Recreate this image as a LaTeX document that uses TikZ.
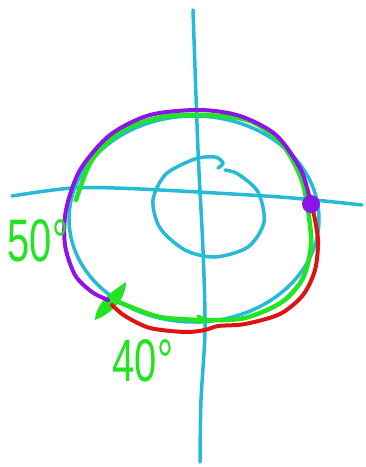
\documentclass[tikz,border=0pt]{standalone}
\usepackage{fontspec}
\setmainfont{Liberation Sans}
\definecolor{skyc}{RGB}{38,186,214}
\definecolor{grn}{RGB}{34,228,34}
\definecolor{prp}{RGB}{140,20,230}
\definecolor{rd}{RGB}{222,20,20}
\begin{document}
\begin{tikzpicture}[x=1pt,y=-1pt,line cap=round,line join=round,
  axisline/.style={skyc,line width=3.5pt},
  ringline/.style={line width=4pt},
  lbl/.style={text=grn,font=\fontsize{50}{50}\selectfont,inner sep=0pt}]
\useasboundingbox (0,0) rectangle (366,467);
\fill[white] (0,0) rectangle (366,467);
% axes
\draw[axisline] plot[smooth] coordinates {(12,196) (73,188) (140,189) (280,197) (362,205)};
\draw[axisline] plot[smooth] coordinates {(193,10) (198,150) (203,250) (205,330) (201,400) (200,462)};
% small spiral
\draw[axisline] plot[smooth] coordinates {(218,168) (223,163) (215,157) (195,159) (166,174) (153,200) (160,228) (185,250) (215,257) (248,247) (264,222) (258,192) (238,174) (225,170)};
% cyan ring
\draw[axisline] (194,219) ellipse [x radius=125, y radius=103];
% green
\draw[grn,ringline,line width=4.5pt] plot[smooth] coordinates {(76,200) (92,160) (122,131) (162,117) (205,115) (250,121) (282,144) (301,178) (308,210) (311,245) (303,278) (282,302) (245,318) (205,320) (160,317) (126,305) (110,298)};
\fill[grn] (95,320) .. controls (96,302) and (114,290) .. (126,282) .. controls (126,298) and (113,313) .. cycle;
\draw[grn,line width=3pt] (198,316) -- (206,320) -- (198,323);
% red
\draw[rd,ringline] plot[smooth] coordinates {(313,210) (318,240) (315,270) (303,295) (280,314) (245,324) (218,326) (205,330) (185,332) (150,328) (125,316) (112,305)};
% purple
\draw[prp,ringline] plot[smooth] coordinates {(311,204) (301,170) (276,135) (240,116) (200,110) (150,115) (110,135) (80,170) (66,210) (65,245) (75,275) (92,292) (108,300)};
\fill[prp] (311,204) circle (9);
% labels
\node[lbl] (t50) at (38,241) {\scalebox{0.8}[1.2]{50°}};
\node[lbl] (t40) at (143,361) {\scalebox{0.8}[1.2]{40°}};
\end{tikzpicture}
\end{document}
